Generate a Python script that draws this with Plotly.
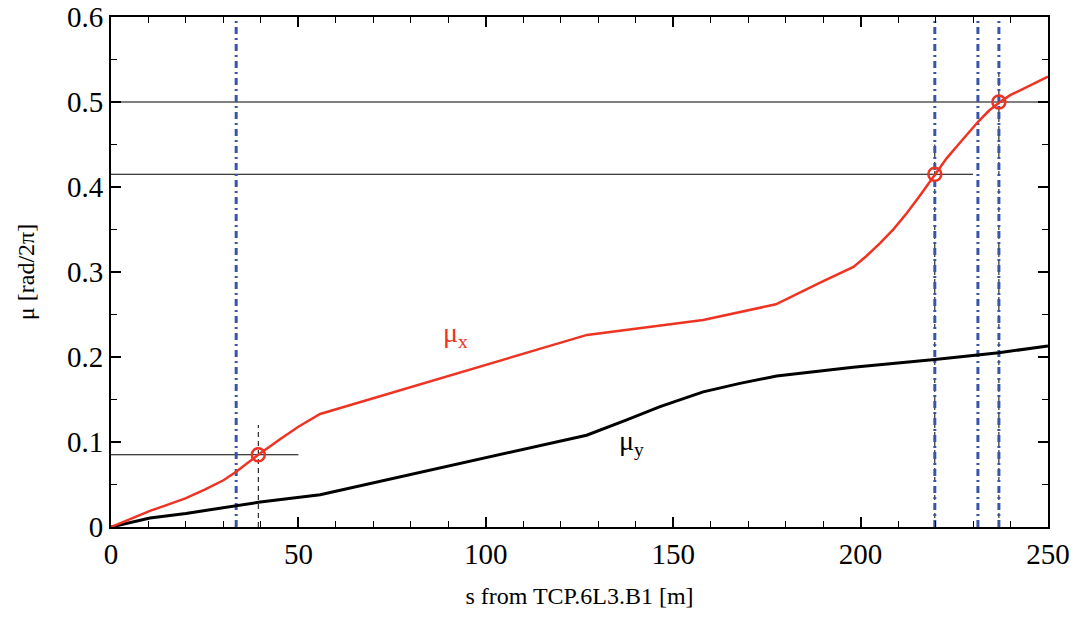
import plotly.graph_objects as go

# data
s_x = [0, 5, 10.4, 15, 20, 25, 30, 33.4, 39.3, 45, 50, 55.8, 127, 158, 177.4, 189.2, 198.1, 201.5, 205.2, 208.8, 212.3, 216, 219.8, 223, 226.5, 231.4, 234.3, 237.2, 239.9, 245, 250]
mu_x = [0, 0.009, 0.019, 0.026, 0.034, 0.044, 0.055, 0.065, 0.085, 0.103, 0.118, 0.133, 0.226, 0.2435, 0.262, 0.2874, 0.306, 0.3185, 0.334, 0.3505, 0.369, 0.391, 0.415, 0.434, 0.452, 0.477, 0.49, 0.5, 0.508, 0.519, 0.53]
s_y = [0, 10.4, 20, 39.3, 55.8, 119.8, 126.9, 137.6, 146.5, 158, 167.8, 177.6, 189.2, 198, 219.8, 236.9, 250]
mu_y = [0, 0.0105, 0.016, 0.029, 0.038, 0.1016, 0.108, 0.126, 0.1416, 0.159, 0.169, 0.1776, 0.184, 0.188, 0.197, 0.205, 0.213]

collimator_s = [33.4, 219.8, 231.3, 236.9]
phase_s = [39.3, 219.8, 236.9]
phase_mu = [0.085, 0.415, 0.5]
hline_end = [50, 230, 250]

RED = "#ee3322"
BLUE = "#3a55a8"
FONT = "Liberation Serif, Times New Roman, serif"

fig = go.Figure()

# horizontal reference lines
for mu, xe in zip(phase_mu, hline_end):
    fig.add_trace(go.Scatter(x=[0, xe], y=[mu, mu], mode="lines",
                             line=dict(color="black", width=1), showlegend=False, hoverinfo="skip"))
# black dashed verticals
for s, mu in zip(phase_s, phase_mu):
    fig.add_trace(go.Scatter(x=[s, s], y=[0, mu + 0.035], mode="lines",
                             line=dict(color="black", width=1, dash="5px,4px"), showlegend=False, hoverinfo="skip"))
# blue dash-dot verticals
for s in collimator_s:
    fig.add_trace(go.Scatter(x=[s, s], y=[0, 0.6], mode="lines",
                             line=dict(color=BLUE, width=3, dash="7px,4px,2px,4px"), showlegend=False, hoverinfo="skip"))

fig.add_trace(go.Scatter(x=s_y, y=mu_y, mode="lines", line=dict(color="black", width=3), showlegend=False))
fig.add_trace(go.Scatter(x=s_x, y=mu_x, mode="lines", line=dict(color=RED, width=2.5), showlegend=False))
fig.add_trace(go.Scatter(x=phase_s, y=phase_mu, mode="markers",
                         marker=dict(symbol="circle-open", size=13, color=RED, line=dict(width=2.5, color=RED)),
                         showlegend=False))

fig.add_annotation(x=88, y=0.226, text="μ<sub>x</sub>", showarrow=False, xanchor="left",
                   font=dict(family=FONT, size=28, color=RED))
fig.add_annotation(x=135, y=0.1, text="μ<sub>y</sub>", showarrow=False, xanchor="left",
                   font=dict(family=FONT, size=28, color="black"))

axis_common = dict(showgrid=False, zeroline=False, showline=True, linecolor="black", linewidth=2,
                   mirror="allticks", ticks="inside", ticklen=10, tickwidth=1.5, tickcolor="black",
                   automargin=False, ticklabeloverflow="allow",
                   tickfont=dict(family=FONT, size=29, color="black"))
fig.update_xaxes(range=[0, 250], tickvals=[0, 50, 100, 150, 200, 250],
                 minor=dict(ticks="inside", ticklen=6, dtick=10, tick0=0, tickcolor="black", tickwidth=1.2),
                 title=dict(text="s from TCP.6L3.B1 [m]", font=dict(family=FONT, size=24, color="black"), standoff=18),
                 **axis_common)
fig.update_yaxes(range=[0, 0.6], tickvals=[0, 0.1, 0.2, 0.3, 0.4, 0.5, 0.6],
                 ticktext=["0", "0.1", "0.2", "0.3", "0.4", "0.5", "0.6"],
                 minor=dict(ticks="inside", ticklen=6, dtick=0.05, tick0=0, tickcolor="black", tickwidth=1.2),
                 title=dict(text="μ [rad/2π]", font=dict(family=FONT, size=24, color="black"), standoff=26),
                 **axis_common)

fig.update_layout(width=1075, height=619, margin=dict(l=111, r=27, t=17, b=92),
                  plot_bgcolor="white", paper_bgcolor="white")

# remove the default page margin so the figure fills the window exactly
fig.write_html("out.html", config={"displayModeBar": False},
               post_script="document.body.style.margin='0';")
